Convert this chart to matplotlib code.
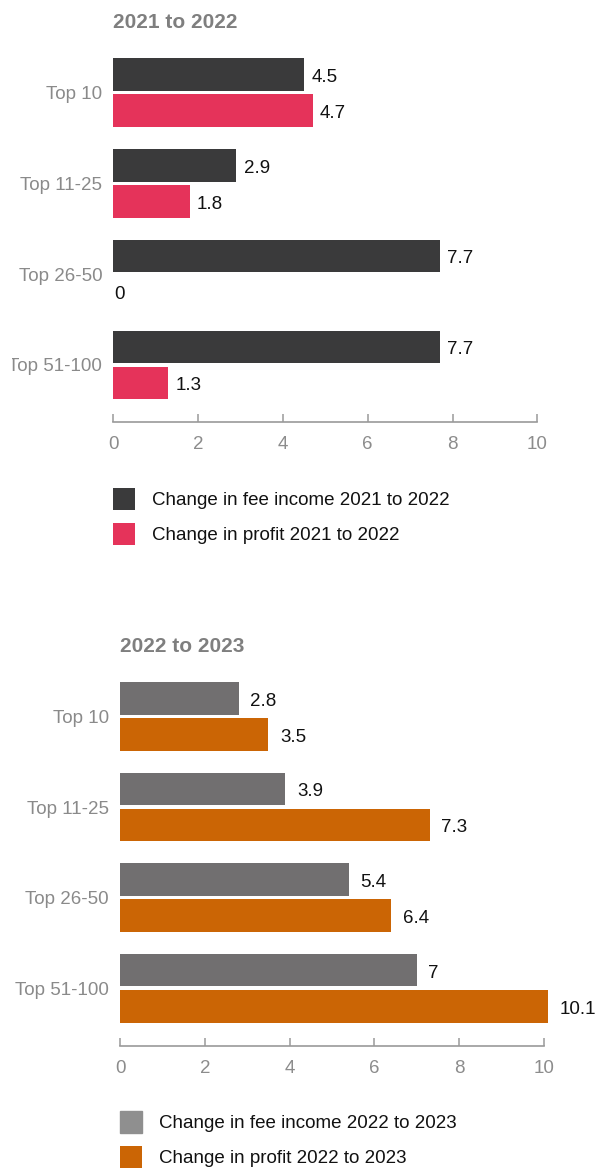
import numpy as np
import matplotlib.pyplot as plt
from matplotlib.transforms import Bbox, offset_copy

plt.rcParams['font.family'] = ['Liberation Sans', 'DejaVu Sans']

# data
groups = ["Top 10", "Top 11-25", "Top 26-50", "Top 51-100"]
fee_21_22 = [4.5, 2.9, 7.7, 7.7]
profit_21_22 = [4.7, 1.8, 0, 1.3]
fee_22_23 = [2.8, 3.9, 5.4, 7]
profit_22_23 = [3.5, 7.3, 6.4, 10.1]
xticks = [0, 2, 4, 6, 8, 10]

W, H = 601, 1169
FS = 13.5
fig = plt.figure(figsize=(W / 100, H / 100), dpi=100)


def px_rect(left, top, right, bottom):
    # pixel box -> figure fraction rect
    return [left / W, 1 - bottom / H, (right - left) / W, (bottom - top) / H]


def panel(rect, ylim, title, title_xy, fee, profit, c_fee, c_profit,
          fee_label, profit_label, leg_xy, label_gap, leg_fee_color=None):
    ax = fig.add_axes(rect)
    y = np.arange(len(groups))
    off = 0.199
    h = 0.358
    b1 = ax.barh(y - off, fee, height=h, color=c_fee, clip_on=False, label=fee_label)
    b2 = ax.barh(y + off, profit, height=h, color=c_profit, clip_on=False, label=profit_label)
    for bars, vals in ((b1, fee), (b2, profit)):
        for bar, v in zip(bars, vals):
            gap = label_gap if v > 0 else 1
            tr = offset_copy(ax.transData, fig=fig, x=gap * 0.72, y=-2, units='points')
            ax.text(v, bar.get_y() + bar.get_height() / 2, f"{v:g}", transform=tr,
                    ha='left', va='center', fontsize=FS, color='#111111')
    ax.set_xlim(0, 10)
    ax.set_ylim(*ylim)
    ax.set_yticks(y)
    ax.set_yticklabels(groups)
    ax.set_xticks(xticks)
    for s in ('top', 'right', 'left'):
        ax.spines[s].set_visible(False)
    ax.spines['bottom'].set_color('#9a9a9a')
    ax.spines['bottom'].set_linewidth(1.2)
    ax.tick_params(axis='x', direction='in', length=5.5, width=1.1, color='#9a9a9a',
                   labelsize=FS, labelcolor='#8c8c8c', pad=10)
    ax.tick_params(axis='y', length=0, labelsize=FS, labelcolor='#8a8a8a', pad=8)
    fig.text(title_xy[0] / W, 1 - title_xy[1] / H, title, fontsize=15, fontweight='bold',
             color='#7f7f7f', ha='left', va='center')
    leg = ax.legend([b1, b2], [fee_label, profit_label], loc='upper left',
                    bbox_to_anchor=(leg_xy[0] / W, 1 - leg_xy[1] / H),
                    bbox_transform=fig.transFigure, frameon=False, fontsize=FS,
                    handlelength=1.17, handleheight=1.43, handletextpad=0.9,
                    labelspacing=0.72, borderpad=0, borderaxespad=0)
    for t in leg.get_texts():
        t.set_color('#111111')
    if leg_fee_color:
        leg.legend_handles[0].set_color(leg_fee_color)
    return ax


ax1 = panel(px_rect(113.3, 40, 537.3, 422), (3.628, -0.578), "2021 to 2022", (113.3, 22.5),
            fee_21_22, profit_21_22, '#3a3a3b', '#e5335a',
            "Change in fee income 2021 to 2022", "Change in profit 2021 to 2022",
            (113.3, 487.5), 7.5)

ax2 = panel(px_rect(120, 665, 544, 1046), (3.637, -0.568), "2022 to 2023", (120, 646),
            fee_22_23, profit_22_23, '#716f70', '#cb6505',
            "Change in fee income 2022 to 2023", "Change in profit 2022 to 2023",
            (120, 1110.5), 11.5, leg_fee_color='#8f8f8f')

# the first panel's row labels are cut off at the left edge
for lab in ax1.get_yticklabels():
    lab.set_clip_on(True)
    lab.set_clip_box(Bbox([[12, 0], [W, H]]))

fig.savefig('out.png', dpi=100)
